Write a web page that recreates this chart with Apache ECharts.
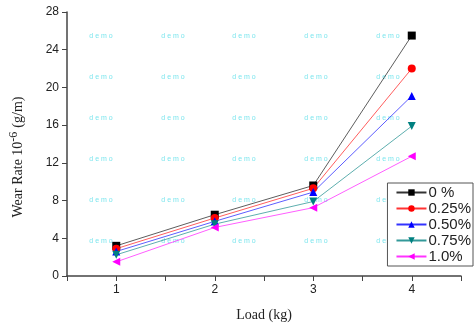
<!DOCTYPE html>
<html><head><meta charset="utf-8">
<script src="https://cdn.jsdelivr.net/npm/echarts@6/dist/echarts.min.js"></script>
<style>html,body{margin:0;padding:0;background:#fff}#c{width:474px;height:327px}</style>
</head><body><div id="c"></div>
<script>
const loads = [1, 2, 3, 4];
const seriesNames = ['0 %', '0.25%', '0.50%', '0.75%', '1.0%'];
const s0 = [3.2, 6.5, 9.6, 25.5];
const s025 = [2.9, 6.15, 9.3, 22.0];
const s050 = [2.6, 5.8, 8.9, 19.1];
const s075 = [2.25, 5.5, 7.9, 15.9];
const s100 = [1.5, 5.15, 7.25, 12.7];
const yTicks = [0, 4, 8, 12, 16, 20, 24, 28];
const watermarkText = 'd e m o';

const values = [s0, s025, s050, s075, s100];
const colors = ['#000000', '#ff0000', '#0000ff', '#008080', '#ff00ff'];
const symbols = ['rect', 'circle', 'triangle', 'triangle', 'triangle'];
const rotates = [0, 0, 0, 180, 90];

const chart = echarts.init(document.getElementById('c'), null, {renderer: 'canvas'});

const wmX = [101, 173, 244, 316, 388];
const wmY = [36, 77, 118, 159, 200, 241];
const graphic = [];
wmX.forEach(x => wmY.forEach(y => graphic.push({
  type: 'text', x: x, y: y, z: 0, silent: true,
  style: {text: watermarkText, fill: '#7fe6ee', font: '7px "Liberation Sans"', align: 'center', verticalAlign: 'middle'}
})));

chart.setOption({
  animation: false,
  backgroundColor: '#fff',
  graphic: graphic,
  grid: {left: 66, right: 13, top: 12, bottom: 45},
  xAxis: {
    type: 'value', min: 0.5, max: 4.5, interval: 0.5,
    name: 'Load (kg)', nameLocation: 'middle', nameGap: 32,
    nameTextStyle: {fontFamily: 'Liberation Serif', fontSize: 14, color: '#222'},
    axisLine: {lineStyle: {color: '#444', width: 1.5}},
    axisTick: {show: true, length: 5, lineStyle: {color: '#444'}},
    axisLabel: {
      fontFamily: 'Liberation Sans', fontSize: 12, color: '#222', margin: 8,
      formatter: v => (Number.isInteger(v) && loads.includes(v)) ? String(v) : ''
    },
    splitLine: {show: false}
  },
  yAxis: {
    type: 'value', min: yTicks[0], max: yTicks[yTicks.length - 1], interval: 4,
    name: '{n|Wear Rate 10}{s|-6}{n|(g/m)}', nameLocation: 'middle', nameGap: 38,
    nameTextStyle: {
      padding: [0, 26, 0, 0],
      rich: {
        n: {fontFamily: 'Liberation Serif', fontSize: 14, color: '#222'},
        s: {fontFamily: 'Liberation Serif', fontSize: 12, color: '#222', verticalAlign: 'top', padding: [0, 4, 9, 0]}
      }
    },
    axisLine: {show: true, lineStyle: {color: '#444', width: 1.5}},
    axisTick: {show: true, length: 5, lineStyle: {color: '#444'}},
    axisLabel: {fontFamily: 'Liberation Sans', fontSize: 12, color: '#222', margin: 8},
    splitLine: {show: false}
  },
  legend: {
    orient: 'vertical', right: 1, top: 183,
    backgroundColor: '#fff',
    borderColor: '#555', borderWidth: 1, padding: [2, 2, 2, 8],
    itemWidth: 30, itemHeight: 8, itemGap: 1,
    textStyle: {fontFamily: 'Liberation Sans', fontSize: 15, color: '#222', padding: [0, 0, 0, -3]},
    data: seriesNames
  },
  series: seriesNames.map((name, i) => ({
    name: name, type: 'line',
    data: loads.map((x, j) => [x, values[i][j]]),
    symbol: symbols[i], symbolSize: 8, symbolRotate: rotates[i],
    itemStyle: {color: colors[i]},
    lineStyle: {color: colors[i], width: 0.8, opacity: 0.8},
    z: 3
  }))
});
</script></body></html>
